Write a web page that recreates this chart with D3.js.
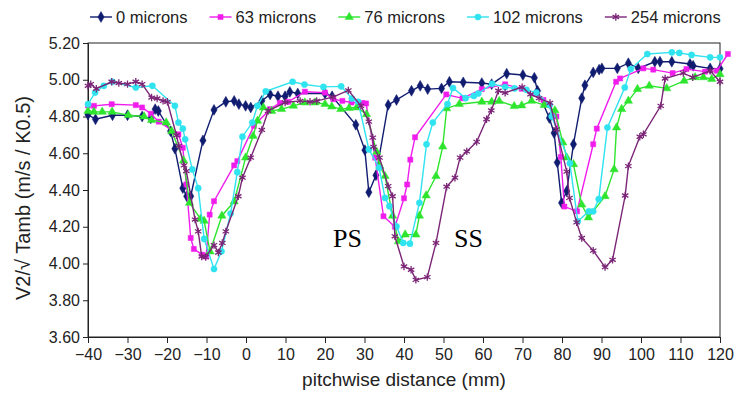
<!DOCTYPE html>
<html>
<head>
<meta charset="utf-8">
<script src="https://cdn.jsdelivr.net/npm/d3@7"></script>
<style>
  body { margin: 0; background: #fff; }
  svg { font-family: "Liberation Sans", Arial, sans-serif; }
</style>
</head>
<body>
<div id="container"></div>
<script>
// data: [pitchwise distance mm, V2/sqrt(Tamb)]
const microns0 = [[-40,4.81],[-38.1,4.785],[-33.8,4.807],[-30,4.807],[-26.3,4.80],[-24.1,4.79],[-23,4.84],[-22.2,4.83],[-19.1,4.72],[-18,4.625],[-16,4.41],[-15,4.366],[-14,4.366],[-10.9,4.67],[-8.1,4.836],[-5.1,4.88],[-3,4.885],[-1.8,4.867],[-0.1,4.858],[1.2,4.849],[4,4.885],[6.1,4.92],[8.1,4.91],[9.9,4.91],[11.1,4.934],[13.1,4.925],[20,4.925],[21.8,4.91],[27.8,4.755],[30.1,4.617],[31.1,4.388],[32.9,4.48],[36,4.863],[38.1,4.89],[41.9,4.94],[44.1,4.967],[46,4.949],[49.5,4.953],[51.5,4.989],[55,4.986],[59.7,4.982],[62.2,4.976],[66,5.033],[70.1,5.026],[73,5.011],[73.8,4.94],[76.8,4.792],[78,4.71],[78.8,4.55],[79.9,4.33],[81.2,4.394],[82.9,4.649],[85,4.90],[85.8,4.97],[87.9,5.04],[89.4,5.055],[90.1,5.062],[94,5.062],[96.8,5.09],[99.3,5.062],[103.5,5.098],[104.8,5.098],[107.8,5.098],[112.4,5.086],[113.2,5.076],[117.5,5.062],[120,5.06]];

const microns63 = [[-40,4.86],[-38.5,4.858],[-34,4.867],[-27.9,4.862],[-26.3,4.849],[-24.1,4.815],[-22.1,4.772],[-17.1,4.703],[-16,4.63],[-15.1,4.43],[-14,4.139],[-13.2,4.079],[-11.1,4.048],[-10.1,4.038],[-9.2,4.266],[-8.1,4.339],[-3,4.534],[-2.2,4.557],[2,4.749],[6.1,4.84],[8.6,4.874],[10.7,4.88],[14.9,4.935],[20,4.93],[22.1,4.894],[24.4,4.885],[26.7,4.876],[29.5,4.873],[30.4,4.871],[32.7,4.576],[34.8,4.257],[37.7,4.2],[40,4.355],[40.8,4.43],[41.6,4.565],[42.8,4.687],[50.7,4.92],[54.8,4.899],[59.7,4.949],[65.6,4.975],[69.8,4.951],[75.3,4.89],[78.6,4.80],[79.7,4.58],[80.6,4.31],[83.8,4.284],[87.9,4.649],[88.8,4.734],[93.7,4.989],[94.7,5.007],[100.6,5.062],[103.1,5.055],[108,5.036],[111.5,5.058],[116.2,5.044],[119.2,5.049],[122,5.14]];

const microns76 = [[-40,4.83],[-38.5,4.825],[-36.4,4.825],[-33.9,4.825],[-29.8,4.807],[-25.8,4.80],[-23.9,4.78],[-20.2,4.767],[-18.8,4.72],[-15.8,4.56],[-14.3,4.33],[-11.5,4.243],[-10.6,4.232],[-9.1,4.065],[-6.1,4.26],[-3,4.337],[-0.1,4.576],[1.8,4.694],[2.9,4.776],[4.4,4.849],[6.5,4.83],[9,4.84],[12,4.858],[14.9,4.876],[17.5,4.876],[20,4.867],[21.7,4.854],[24,4.84],[26.1,4.846],[28,4.849],[30.5,4.812],[33.1,4.607],[33.9,4.53],[35.2,4.475],[37.1,4.26],[38.6,4.12],[40.3,4.157],[43,4.157],[43.9,4.26],[45.6,4.37],[48.1,4.475],[49.8,4.636],[50.8,4.844],[54,4.867],[59.7,4.88],[62.2,4.88],[64.1,4.884],[67.9,4.856],[69.8,4.86],[72.3,4.885],[75.5,4.862],[78.2,4.833],[80.2,4.658],[81.2,4.576],[82.9,4.54],[85,4.32],[86.7,4.25],[90.9,4.366],[93.2,4.512],[93.8,4.74],[95.1,4.84],[96.8,4.885],[99.1,4.949],[102.1,4.967],[106.5,4.953],[110.9,4.994],[113.7,5.013],[115.8,5.013],[117.9,5.004],[120,5.03]];

const microns102 = [[-40,4.867],[-38.2,4.93],[-36,4.967],[-33.8,4.989],[-27.9,4.958],[-23.7,4.967],[-18,4.858],[-17.1,4.767],[-16,4.734],[-15.4,4.676],[-13.6,4.512],[-12.1,4.41],[-10.6,4.134],[-8.1,3.97],[-6.2,4.066],[-3.9,4.272],[-2.2,4.497],[-0.9,4.69],[1.6,4.767],[2.9,4.858],[5,4.937],[11.8,4.989],[14.8,4.974],[19.6,4.961],[24.1,4.964],[26.8,4.898],[28.4,4.88],[31.1,4.621],[33.7,4.521],[35.2,4.357],[36.3,4.312],[38.1,4.202],[39.8,4.112],[41.5,4.108],[43.9,4.33],[45.7,4.649],[47.3,4.767],[51,4.867],[52.4,4.955],[55.6,4.90],[57.7,4.912],[58.8,4.925],[62.3,4.978],[65.6,4.96],[68,4.953],[71,4.945],[73.5,4.93],[76.9,4.862],[77.4,4.80],[82,4.545],[84,4.23],[86.8,4.284],[87.9,4.284],[89.3,4.35],[91.5,4.74],[95.9,4.958],[97.4,5.058],[101.6,5.14],[107.8,5.149],[109.7,5.146],[112.8,5.135],[117.5,5.122],[120,5.122]];

const microns254 = [[-40,4.967],[-39.3,4.976],[-37.9,4.951],[-34,4.989],[-32.2,4.982],[-30,4.976],[-27.9,4.989],[-26.3,4.976],[-23.9,4.903],[-22.5,4.898],[-21,4.885],[-19.9,4.88],[-17.6,4.698],[-17,4.64],[-15.7,4.534],[-15.1,4.503],[-12.9,4.239],[-12.1,4.175],[-11.2,4.038],[-10.2,4.035],[-8.1,4.10],[-7,4.06],[-6,4.112],[-5.1,4.175],[-1.95,4.366],[-0.9,4.467],[1.2,4.576],[4,4.727],[5.6,4.83],[9.9,4.876],[13.7,4.885],[16.2,4.88],[17.9,4.885],[22,4.905],[25.9,4.942],[29.1,4.858],[31.1,4.772],[32.1,4.685],[32.3,4.635],[33.8,4.576],[36,4.421],[37.1,4.366],[37.7,4.148],[40,3.984],[41.8,3.966],[43,3.911],[45.9,3.926],[48.1,4.112],[50.8,4.418],[52.9,4.467],[54.2,4.576],[55.9,4.61],[58.4,4.662],[60.9,4.785],[62.1,4.833],[63.9,4.94],[65.6,4.929],[69.9,4.96],[72,4.92],[74.2,4.9],[76.96,4.874],[78.6,4.73],[81.2,4.50],[81.9,4.357],[83.7,4.224],[85,4.139],[87.9,4.07],[90.9,3.98],[92.8,4.02],[96,4.37],[96.8,4.53],[99.7,4.69],[100.6,4.703],[105,4.858],[106.1,5.007],[110.7,5.036],[113.1,5.013],[117.5,5.049],[120,4.989]];

const seriesNames = ["0 microns", "63 microns", "76 microns", "102 microns", "254 microns"];
const xTicks = d3.range(-40, 121, 10);
const yTicks = [3.6, 3.8, 4.0, 4.2, 4.4, 4.6, 4.8, 5.0, 5.2];

const width = 735, height = 401;
const margin = { top: 43, right: 15, bottom: 64, left: 88 };

const styles = [
  { color: "#101c70", symbol: d3.symbolDiamond, size: 34, fill: true },
  { color: "#f01cec", symbol: d3.symbolSquare, size: 26, fill: true },
  { color: "#2ee52e", symbol: d3.symbolTriangle, size: 30, fill: true },
  { color: "#2fe3ef", symbol: d3.symbolCircle, size: 30, fill: true },
  { color: "#7b2577", symbol: d3.symbolAsterisk, size: 38, fill: false }
];
const allSeries = [microns0, microns63, microns76, microns102, microns254];

const svg = d3.select("#container").append("svg")
  .attr("width", width).attr("height", height);

const x = d3.scaleLinear().domain([-40, 120]).range([margin.left, width - margin.right]);
const y = d3.scaleLinear().domain([3.6, 5.2]).range([height - margin.bottom, margin.top]);

// frame
svg.append("rect")
  .attr("x", x(-40)).attr("y", y(5.2))
  .attr("width", x(120) - x(-40)).attr("height", y(3.6) - y(5.2))
  .attr("fill", "none").attr("stroke", "#222").attr("stroke-width", 1);

const xAxis = svg.append("g")
  .attr("transform", `translate(0,${y(3.6)})`)
  .call(d3.axisBottom(x).tickValues(xTicks).tickSize(6).tickPadding(6).tickFormat(d3.format("d")));
const yAxis = svg.append("g")
  .attr("transform", `translate(${x(-40)},0)`)
  .call(d3.axisLeft(y).tickValues(yTicks).tickSize(5).tickPadding(3).tickFormat(d3.format(".2f")));

[xAxis, yAxis].forEach(g => {
  g.select(".domain").attr("stroke", "#222");
  g.selectAll(".tick line").attr("stroke", "#222");
  g.selectAll(".tick text").attr("fill", "#222").style("font-size", "16px");
});

svg.append("text")
  .attr("x", x(40)).attr("y", 386)
  .attr("text-anchor", "middle")
  .style("font-size", "19px").attr("fill", "#222")
  .text("pitchwise distance (mm)");

svg.append("text")
  .attr("transform", `translate(30,${(y(3.6) + y(5.2)) / 2 + 8}) rotate(-90)`)
  .attr("text-anchor", "middle")
  .style("font-size", "20px").attr("fill", "#222")
  .text("V2/\u221A Tamb (m/s / K0.5)");

// series
const line = d3.line().x(d => x(d[0])).y(d => y(d[1]));
allSeries.forEach((data, i) => {
  const st = styles[i];
  svg.append("path")
    .datum(data)
    .attr("d", line)
    .attr("fill", "none")
    .attr("stroke", st.color)
    .attr("stroke-width", 1.4);
  svg.selectAll(".m" + i)
    .data(data)
    .join("path")
    .attr("class", "m" + i)
    .attr("transform", d => `translate(${x(d[0])},${y(d[1])})`)
    .attr("d", d3.symbol().type(st.symbol).size(st.size))
    .attr("fill", st.fill ? st.color : "none")
    .attr("stroke", st.color)
    .attr("stroke-width", st.fill ? 0.5 : 1.3);
});

// PS / SS labels
svg.append("text").attr("x", 333).attr("y", 247)
  .style("font-family", "'Liberation Serif', 'Times New Roman', serif")
  .style("font-size", "26px").text("PS");
svg.append("text").attr("x", 454).attr("y", 247)
  .style("font-family", "'Liberation Serif', 'Times New Roman', serif")
  .style("font-size", "26px").text("SS");

// legend
const legend = svg.append("g").attr("transform", "translate(90,17)");
let lx = 0;
seriesNames.forEach((name, i) => {
  const st = styles[i];
  const g = legend.append("g").attr("transform", `translate(${lx},0)`);
  g.append("line").attr("x1", 0).attr("x2", 22).attr("y1", 0).attr("y2", 0)
    .attr("stroke", st.color).attr("stroke-width", 1.4);
  g.append("path").attr("transform", "translate(11,0)")
    .attr("d", d3.symbol().type(st.symbol).size(st.size))
    .attr("fill", st.fill ? st.color : "none")
    .attr("stroke", st.color).attr("stroke-width", st.fill ? 0.5 : 1.3);
  const t = g.append("text").attr("x", 26).attr("y", 6)
    .style("font-size", "16.5px").attr("fill", "#222").text(name);
  lx += 26 + t.node().getComputedTextLength() + 22;
});
</script>
</body>
</html>
